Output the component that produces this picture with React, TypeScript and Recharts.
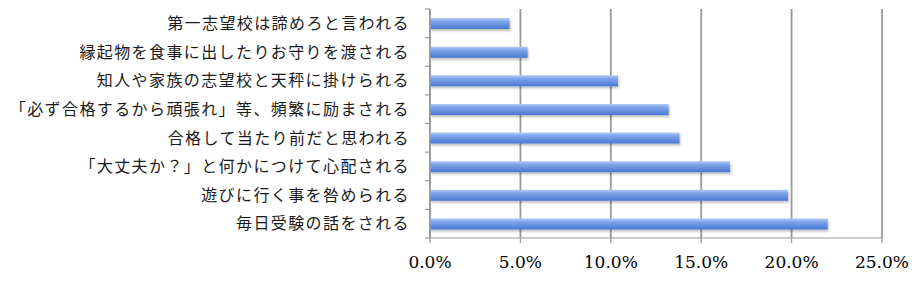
import { BarChart, Bar, XAxis, YAxis, CartesianGrid } from "recharts";

const categories = [
  "第一志望校は諦めろと言われる",
  "縁起物を食事に出したりお守りを渡される",
  "知人や家族の志望校と天秤に掛けられる",
  "「必ず合格するから頑張れ」等、頻繁に励まされる",
  "合格して当たり前だと思われる",
  "「大丈夫か？」と何かにつけて心配される",
  "遊びに行く事を咎められる",
  "毎日受験の話をされる",
];
const values = [4.4, 5.4, 10.4, 13.2, 13.8, 16.6, 19.8, 22.0];
const xTicks = [0, 5, 10, 15, 20, 25];

const W = 918;
const H = 281;
const TOP = 9;
const AXIS_H = 43;
const Y_W = 430;
const BAND = (H - TOP - AXIS_H) / categories.length;

const data = categories.map((name, i) => ({ name, value: values[i] }));

function CatTick({ x, y, payload, index }: any) {
  const cy = payload.coordinate;
  return (
    <g>
      <line x1={Y_W - 5} x2={Y_W} y1={cy - BAND / 2} y2={cy - BAND / 2} stroke="#9a9a9a" strokeWidth={1.2} />
      {index === categories.length - 1 && (
        <line x1={Y_W - 5} x2={Y_W} y1={cy + BAND / 2} y2={cy + BAND / 2} stroke="#9a9a9a" strokeWidth={1.2} />
      )}
      <text
        x={x}
        y={y}
        dy="0.36em"
        textAnchor="end"
        fill="#1a1a1a"
        fontSize={16}
        letterSpacing={1.4}
        fontFamily="'Noto Sans CJK JP', sans-serif"
        style={{ textSpacingTrim: "space-all", fontFeatureSettings: "'fwid' 1" } as any}
      >
        {payload.value}
      </text>
    </g>
  );
}

export default function App() {
  return (
    <div
      style={{ position: "absolute", left: 0, top: 0, width: W, height: H, background: "#fff", textSpacingTrim: "space-all" } as any}
    >
      <BarChart
        width={W}
        height={H}
        data={data}
        layout="vertical"
        margin={{ top: TOP, right: 36, left: 0, bottom: 0 }}
        barCategoryGap={0}
      >
        <defs>
          <linearGradient id="barGrad" x1="0" y1="0" x2="0" y2="1">
            <stop offset="0%" stopColor="#b3cbf4" />
            <stop offset="30%" stopColor="#7fa5ea" />
            <stop offset="100%" stopColor="#4a78d3" />
          </linearGradient>
          <filter id="barShadow" x="-5%" y="-30%" width="110%" height="190%">
            <feDropShadow dx="1" dy="2" stdDeviation="1.2" floodColor="#000" floodOpacity="0.25" />
          </filter>
        </defs>
        <CartesianGrid horizontal={false} stroke="#999" strokeWidth={1.8} />
        <XAxis
          type="number"
          domain={[0, 25]}
          ticks={xTicks}
          height={AXIS_H}
          axisLine={{ stroke: "#9a9a9a", strokeWidth: 1.2 }}
          tickLine={{ stroke: "#9a9a9a", strokeWidth: 1.2 }}
          tickSize={5}
          tickMargin={13}
          tickFormatter={(v) => `${v.toFixed(1)}%`}
          tick={{ fill: "#000", fontSize: 17, fontFamily: "'DejaVu Serif', serif" }}
          interval={0}
        />
        <YAxis
          type="category"
          dataKey="name"
          width={Y_W}
          axisLine={{ stroke: "#9a9a9a", strokeWidth: 1.2 }}
          tickLine={false}
          tickSize={5}
          tickMargin={15}
          tick={<CatTick />}
          interval={0}
        />
        <Bar
          dataKey="value"
          barSize={11}
          fill="url(#barGrad)"
          filter="url(#barShadow)"
          isAnimationActive={false}
        />
      </BarChart>
    </div>
  );
}
